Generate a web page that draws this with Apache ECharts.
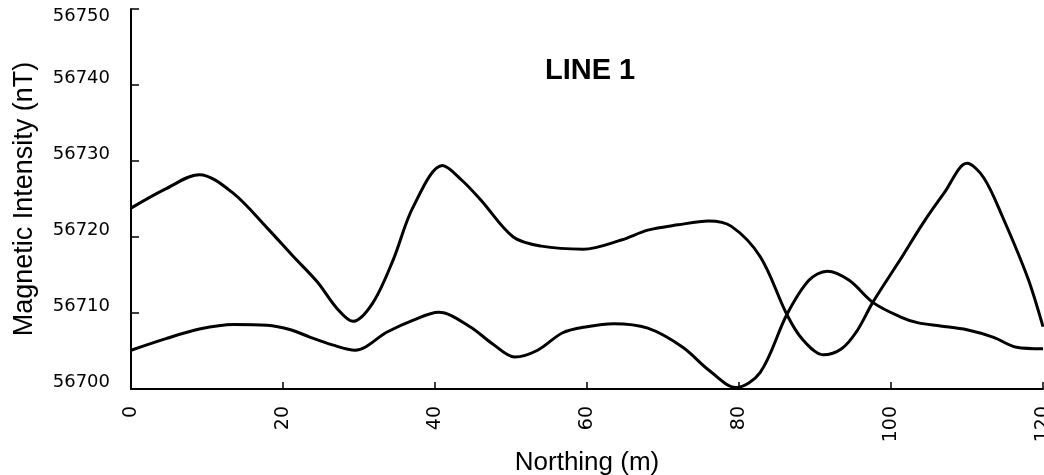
<!DOCTYPE html>
<html>
<head>
<meta charset="utf-8">
<script src="https://cdn.jsdelivr.net/npm/echarts@6/dist/echarts.min.js"></script>
<style>
html,body{margin:0;padding:0;background:#fff;}
#chart{width:1044px;height:475px;}
</style>
</head>
<body>
<div id="chart"></div>
<script>
// Data
const titleText = 'LINE 1';
const xAxisName = 'Northing (m)';
const yAxisName = 'Magnetic Intensity (nT)';

// Line A: starts high (≈56724), dips at 29 and 91, peaks at 41 and 110
const lineANorthing = [0, 4.5, 9, 13.4, 17.9, 21.3, 24.5, 27.1, 29.2, 31.8, 34.5, 37.1, 41, 43.5, 46, 50.3, 54, 59.5, 64.5, 68, 72, 76, 79, 82.8, 86.3, 88.3, 91.1, 93.5, 95.5, 97.6, 101.2, 104.2, 107, 110, 112.2, 114.7, 118, 120];
const lineAValues   = [56723.8, 56726.3, 56728.2, 56725.8, 56721.2, 56717.5, 56714.1, 56710.6, 56708.9, 56711.3, 56717.0, 56723.9, 56729.4, 56727.5, 56724.9, 56720.0, 56718.8, 56718.4, 56719.6, 56720.9, 56721.6, 56722.1, 56721.4, 56717.4, 56709.8, 56706.6, 56704.5, 56705.3, 56707.6, 56711.4, 56717.0, 56721.8, 56725.8, 56729.7, 56727.8, 56722.6, 56714.6, 56708.2];

// Line B: starts low (≈56705), touches 56700 near 80, peaks at 91
const lineBNorthing = [0, 4.5, 9, 13.5, 17.9, 21, 23.6, 26.5, 29.5, 33.7, 37, 40.5, 44.6, 47.5, 50.5, 53.5, 56.8, 60, 63.5, 68, 72.6, 76, 79.6, 82.8, 86.3, 89.2, 91.6, 94.5, 97.6, 101.2, 103.6, 106.5, 110, 113.5, 116.5, 120];
const lineBValues   = [56705.1, 56706.6, 56707.9, 56708.5, 56708.4, 56707.8, 56706.8, 56705.8, 56705.1, 56707.5, 56709.0, 56710.1, 56708.2, 56706.0, 56704.2, 56705.1, 56707.4, 56708.2, 56708.6, 56708.0, 56705.5, 56702.5, 56700.2, 56702.2, 56709.8, 56714.3, 56715.5, 56714.3, 56711.4, 56709.5, 56708.7, 56708.3, 56707.8, 56706.8, 56705.5, 56705.3];

const xMin = 0, xMax = 120, xStep = 20;
const yMin = 56700, yMax = 56750, yStep = 10;

const pair = (xs, ys) => xs.map((x, i) => [x, ys[i]]);

const chart = echarts.init(document.getElementById('chart'), null, {renderer: 'canvas'});
const FONT = '"Liberation Sans", Arial, sans-serif';
const NUMFONT = '"DejaVu Sans", sans-serif';
chart.setOption({
  animation: false,
  backgroundColor: '#ffffff',
  title: {
    text: titleText,
    left: 545,
    top: 56,
    padding: 0,
    textStyle: {fontFamily: FONT, fontSize: 29, fontWeight: 'bold', color: '#000'}
  },
  grid: {left: 131, right: 1, top: 9, bottom: 86, containLabel: false, outerBoundsMode: 'none'},
  xAxis: {
    type: 'value',
    min: xMin, max: xMax, interval: xStep,
    name: xAxisName,
    nameLocation: 'middle',
    nameGap: 37,
    nameTextStyle: {fontFamily: FONT, fontSize: 26, color: '#000'},
    axisLine: {show: true, lineStyle: {color: '#000', width: 2}},
    axisTick: {show: true, inside: true, length: 7, lineStyle: {color: '#000', width: 1.5}},
    axisLabel: {rotate: 90, margin: 17, fontFamily: NUMFONT, fontSize: 19, color: '#000'},
    splitLine: {show: false}
  },
  yAxis: {
    type: 'value',
    min: yMin, max: yMax, interval: yStep,
    name: yAxisName,
    nameLocation: 'middle',
    nameRotate: 90,
    nameGap: 93,
    nameTextStyle: {fontFamily: FONT, fontSize: 27, color: '#000'},
    axisLine: {show: true, lineStyle: {color: '#000', width: 2}},
    axisTick: {show: true, inside: true, length: 8, lineStyle: {color: '#000', width: 1.5}},
    axisLabel: {
      margin: 21, fontFamily: NUMFONT, fontSize: 18, color: '#000',
      lineHeight: 14,
      formatter: v => (v === yMax ? '\n' + String(v) : String(v) + '\n')
    },
    splitLine: {show: false}
  },
  series: [
    {
      type: 'line',
      data: pair(lineANorthing, lineAValues),
      smooth: 0.33,
      showSymbol: false,
      lineStyle: {color: '#000', width: 3},
      clip: true
    },
    {
      type: 'line',
      data: pair(lineBNorthing, lineBValues),
      smooth: 0.33,
      showSymbol: false,
      lineStyle: {color: '#000', width: 3},
      clip: true
    }
  ]
});
</script>
</body>
</html>
